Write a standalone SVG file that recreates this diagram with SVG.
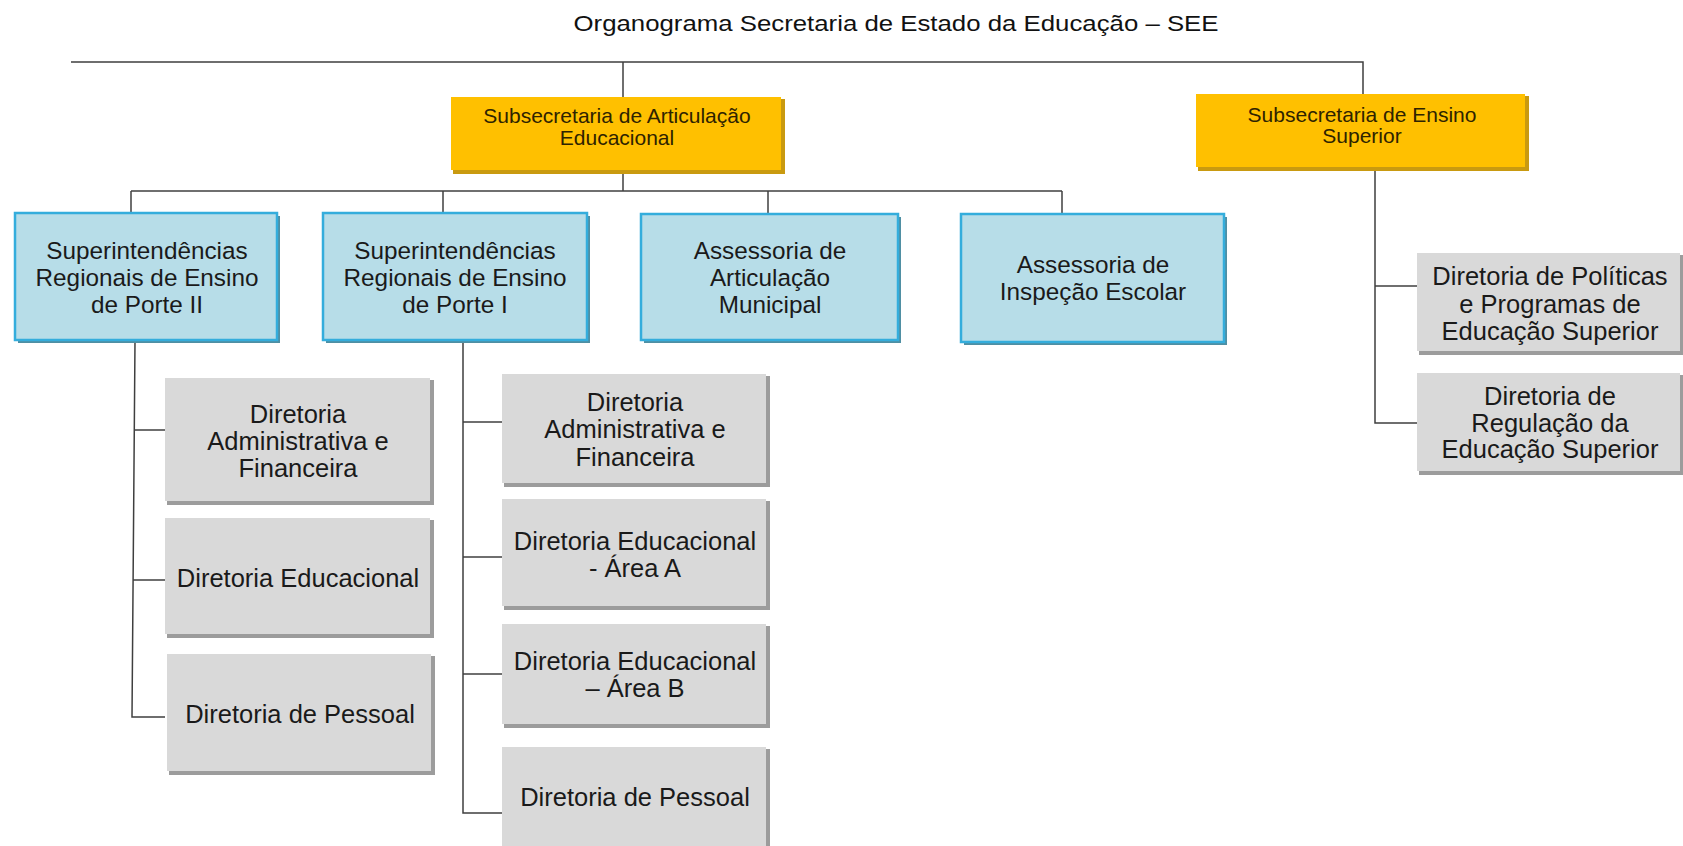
<svg xmlns="http://www.w3.org/2000/svg" width="1683" height="846" viewBox="0 0 1683 846">
<style>
  text { font-family: "Liberation Sans", Arial, sans-serif; text-anchor: middle; }
  .title { font-size: 21.5px; fill: #111; }
  .ytxt { font-size: 21px; fill: #2e2300; }
  .btxt { font-size: 24.3px; fill: #1a1a1a; }
  .gtxt { font-size: 25.5px; fill: #1a1a1a; }
  .ybox { fill: #FFC000; }
  .ysh { fill: #C99A10; }
  .bbox { fill: #B7DDE8; stroke: #34ADDC; stroke-width: 2.5; }
  .bsh { fill: #4F8FA3; }
  .gbox { fill: #D9D9D9; }
  .gsh { fill: #9C9C9C; }
  .conn { fill: none; stroke: #3f3f3f; stroke-width: 1.5; }
</style>

<text class="title" x="896" y="31" textLength="645" lengthAdjust="spacingAndGlyphs">Organograma Secretaria de Estado da Educação – SEE</text>

<g id="connectors" class="conn">
  <path d="M71 62 H1363 V94"/>
  <path d="M623 62 V97"/>
  <path d="M623 172 V191"/>
  <path d="M131 191 H1062"/>
  <path d="M131 191 V213"/>
  <path d="M443 191 V213"/>
  <path d="M768 191 V214"/>
  <path d="M1062 191 V214"/>
  <path d="M135 341 L132 717 H165"/>
  <path d="M134 430 H165"/>
  <path d="M133 580 H165"/>
  <path d="M463 341 V813 H502"/>
  <path d="M463 422 H502"/>
  <path d="M463 557 H502"/>
  <path d="M463 674 H502"/>
  <path d="M1375 169 V423 H1417"/>
  <path d="M1375 286 H1417"/>
</g>

<g id="sub-articulacao">
  <rect class="ysh" x="453" y="99" width="332" height="75"/>
  <rect class="ybox" x="451" y="97" width="330" height="73"/>
  <text class="ytxt" x="617" y="123">Subsecretaria de Articulação</text>
  <text class="ytxt" x="617" y="145">Educacional</text>
</g>

<g id="sub-ensino-superior">
  <rect class="ysh" x="1198" y="96" width="331" height="75"/>
  <rect class="ybox" x="1196" y="94" width="329" height="73"/>
  <text class="ytxt" x="1362" y="122">Subsecretaria de Ensino</text>
  <text class="ytxt" x="1362" y="143">Superior</text>
</g>

<g id="sre-porte-2">
  <rect class="bsh" x="18" y="216" width="262" height="127"/>
  <rect class="bbox" x="15" y="213" width="262" height="127"/>
  <text class="btxt" x="147" y="259">Superintendências</text>
  <text class="btxt" x="147" y="286">Regionais de Ensino</text>
  <text class="btxt" x="147" y="313">de Porte II</text>
</g>

<g id="sre-porte-1">
  <rect class="bsh" x="326" y="216" width="264" height="127"/>
  <rect class="bbox" x="323" y="213" width="264" height="127"/>
  <text class="btxt" x="455" y="259">Superintendências</text>
  <text class="btxt" x="455" y="286">Regionais de Ensino</text>
  <text class="btxt" x="455" y="313">de Porte I</text>
</g>

<g id="assessoria-articulacao">
  <rect class="bsh" x="644" y="217" width="257" height="126"/>
  <rect class="bbox" x="641" y="214" width="257" height="126"/>
  <text class="btxt" x="770" y="259">Assessoria de</text>
  <text class="btxt" x="770" y="286">Articulação</text>
  <text class="btxt" x="770" y="313">Municipal</text>
</g>

<g id="assessoria-inspecao">
  <rect class="bsh" x="964" y="217" width="263" height="128"/>
  <rect class="bbox" x="961" y="214" width="263" height="128"/>
  <text class="btxt" x="1093" y="273">Assessoria de</text>
  <text class="btxt" x="1093" y="300">Inspeção Escolar</text>
</g>

<g id="p2-dir-adm">
  <rect class="gsh" x="167" y="380" width="267" height="125"/>
  <rect class="gbox" x="165" y="378" width="265" height="123"/>
  <text class="gtxt" x="298" y="423">Diretoria</text>
  <text class="gtxt" x="298" y="450">Administrativa e</text>
  <text class="gtxt" x="298" y="477">Financeira</text>
</g>

<g id="p2-dir-educ">
  <rect class="gsh" x="167" y="520" width="267" height="118"/>
  <rect class="gbox" x="165" y="518" width="265" height="116"/>
  <text class="gtxt" x="298" y="587">Diretoria Educacional</text>
</g>

<g id="p2-dir-pessoal">
  <rect class="gsh" x="169" y="656" width="266" height="119"/>
  <rect class="gbox" x="167" y="654" width="264" height="117"/>
  <text class="gtxt" x="300" y="723">Diretoria de Pessoal</text>
</g>

<g id="p1-dir-adm">
  <rect class="gsh" x="504" y="376" width="266" height="111"/>
  <rect class="gbox" x="502" y="374" width="264" height="109"/>
  <text class="gtxt" x="635" y="411">Diretoria</text>
  <text class="gtxt" x="635" y="438">Administrativa e</text>
  <text class="gtxt" x="635" y="466">Financeira</text>
</g>

<g id="p1-dir-educ-a">
  <rect class="gsh" x="504" y="501" width="266" height="109"/>
  <rect class="gbox" x="502" y="499" width="264" height="107"/>
  <text class="gtxt" x="635" y="550">Diretoria Educacional</text>
  <text class="gtxt" x="635" y="577">- Área A</text>
</g>

<g id="p1-dir-educ-b">
  <rect class="gsh" x="504" y="626" width="266" height="102"/>
  <rect class="gbox" x="502" y="624" width="264" height="100"/>
  <text class="gtxt" x="635" y="670">Diretoria Educacional</text>
  <text class="gtxt" x="635" y="697">– Área B</text>
</g>

<g id="p1-dir-pessoal">
  <rect class="gsh" x="504" y="749" width="266" height="99"/>
  <rect class="gbox" x="502" y="747" width="264" height="99"/>
  <text class="gtxt" x="635" y="806">Diretoria de Pessoal</text>
</g>

<g id="dir-politicas">
  <rect class="gsh" x="1419" y="255" width="264" height="100"/>
  <rect class="gbox" x="1417" y="253" width="263" height="98"/>
  <text class="gtxt" x="1550" y="285">Diretoria de Políticas</text>
  <text class="gtxt" x="1550" y="313">e Programas de</text>
  <text class="gtxt" x="1550" y="340">Educação Superior</text>
</g>

<g id="dir-regulacao">
  <rect class="gsh" x="1419" y="375" width="264" height="100"/>
  <rect class="gbox" x="1417" y="373" width="263" height="98"/>
  <text class="gtxt" x="1550" y="405">Diretoria de</text>
  <text class="gtxt" x="1550" y="432">Regulação da</text>
  <text class="gtxt" x="1550" y="458">Educação Superior</text>
</g>
</svg>
